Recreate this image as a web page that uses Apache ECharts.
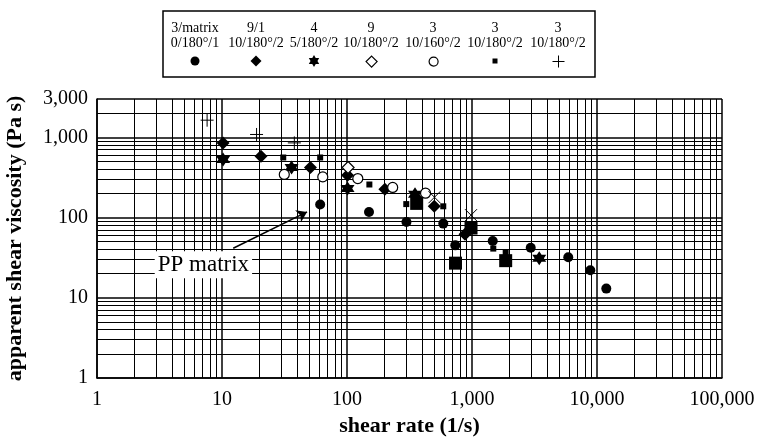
<!DOCTYPE html>
<html>
<head>
<meta charset="utf-8">
<script src="https://cdn.jsdelivr.net/npm/echarts@6/dist/echarts.min.js"></script>
<style>
  html, body { margin: 0; background: #fff; }
  #chart { width: 760px; height: 441px; }
</style>
</head>
<body>
<div id="chart"></div>
<script>
// legend column texts (two lines per column)
const legendTop = ['3/matrix', '9/1', '4', '9', '3', '3', '3']
const legendBottom = ['0/180°/1', '10/180°/2', '5/180°/2', '10/180°/2', '10/160°/2', '10/180°/2', '10/180°/2']
const seriesNames = [
  '3/matrix 0/180°/1',
  '9/1 10/180°/2',
  '4 5/180°/2',
  '9 10/180°/2',
  '3 10/160°/2',
  '3 10/180°/2 (square)',
  '3 10/180°/2 (plus)',
]

// [shear rate (1/s), apparent shear viscosity (Pa s)]
const ppMatrix = [[61, 145], [150, 117], [299, 88], [589, 84], [735, 45], [1465, 51], [2950, 42], [5890, 32], [8840, 22], [11870, 13]]
const diamond91 = [[10.2, 851], [20.5, 581], [51, 420], [101, 337], [201, 225], [499, 138], [879, 62]]
const star4 = [[10.2, 529], [36, 420], [101, 230], [350, 195], [3450, 31]]
const openDiamond9 = [[102, 420]]
const openCircle3 = [[31.5, 344], [64, 321], [122, 306], [232, 237], [425, 201]]
const smallSquare3 = [[30.9, 560], [61, 560], [151, 258], [298, 147], [589, 138], [1480, 41], [1860, 37]]
const plus3 = [[7.6, 1634], [18.9, 1084], [37.9, 851]]
// markers without a legend entry
const bigSquare = [[361, 150], [982, 74], [738, 27], [1860, 29]]
const crossMark = [[501, 179], [982, 107]]

// minor log grid values
const xMinorGrid = []
const yMinorGrid = []
;[1, 10, 100, 1000, 10000].forEach((d) => {
  for (let k = 2; k <= 9; k++) xMinorGrid.push(k * d)
})
;[1, 10, 100].forEach((d) => {
  for (let k = 2; k <= 9; k++) yMinorGrid.push(k * d)
})
yMinorGrid.push(2000)

// annotation
const ppLabelAt = [7.1, 25.8]
const arrowFrom = [12.3, 41.4]
const arrowTo = [47.9, 117.5]

const serif = "'Liberation Serif', 'Times New Roman', serif"
const STAR = 'path://M0,-10L2.887,-5L8.66,-5L5.774,0L8.66,5L2.887,5L0,10L-2.887,5L-8.66,5L-5.774,0L-8.66,-5L-2.887,-5Z'
const PLUS = 'path://M0,-10V10M-10,0H10'
const CROSS = 'path://M-10,-10L10,10M10,-10L-10,10'

const legendX = [195, 256, 314, 371, 433, 495, 558]
const legendIconSize = [9, 11, 12, 11, 9, 5, 12]

const fmt = (v) => Math.round(v).toLocaleString('en-US')

const chart = echarts.init(document.getElementById('chart'))

const filled = { color: '#000', opacity: 1 }
const hollow = { color: '#fff', borderColor: '#000', borderWidth: 1.2, opacity: 1 }
const stroked = { color: 'rgba(0,0,0,0)', borderColor: '#000', borderWidth: 1, opacity: 1 }

chart.setOption({
  animation: false,
  backgroundColor: '#fff',
  grid: { left: 97, right: 38, top: 99, bottom: 63, outerBoundsMode: 'none', containLabel: false },
  xAxis: {
    type: 'log',
    min: 1,
    max: 100000,
    axisLine: { show: true, onZero: false, lineStyle: { color: '#000', width: 1.5 } },
    axisTick: { show: false },
    axisLabel: { color: '#000', fontFamily: serif, fontSize: 20, margin: 12, formatter: fmt },
    splitLine: { show: true, lineStyle: { color: '#000', width: 1.5 } },
    name: 'shear rate (1/s)',
    nameLocation: 'middle',
    nameGap: 35,
    nameTextStyle: { color: '#000', fontFamily: serif, fontSize: 22, fontWeight: 'bold' },
  },
  yAxis: {
    type: 'log',
    min: 1,
    max: 3000,
    axisLine: { show: true, onZero: false, lineStyle: { color: '#000', width: 1.5 } },
    axisTick: { show: false },
    axisLabel: { color: '#000', fontFamily: serif, fontSize: 20, margin: 9, formatter: fmt },
    splitLine: { show: true, lineStyle: { color: '#000', width: 1.5 } },
    name: 'apparent shear viscosity (Pa s)',
    nameLocation: 'middle',
    nameGap: 71,
    nameTextStyle: { color: '#000', fontFamily: serif, fontSize: 22, fontWeight: 'bold' },
  },
  // legend icons: one component per column, text drawn by graphic below
  legend: seriesNames.map((name, i) => ({
    data: [name],
    left: legendX[i] - legendIconSize[i] / 2,
    top: 61 - legendIconSize[i] / 2,
    padding: 0,
    itemWidth: legendIconSize[i],
    itemHeight: legendIconSize[i],
    selectedMode: false,
    formatter: () => '',
    itemStyle: { borderWidth: i === 3 || i === 4 ? 1.2 : i === 6 ? 1 : 0 },
  })),
  graphic: [
    {
      type: 'rect',
      shape: { x: 163, y: 11, width: 432, height: 66 },
      style: { fill: 'none', stroke: '#000', lineWidth: 1.5 },
    },
    ...legendTop.map((t, i) => ({
      type: 'text',
      x: legendX[i],
      y: 28,
      style: { text: t, fill: '#000', font: `14px ${serif}`, align: 'center', verticalAlign: 'middle' },
    })),
    ...legendBottom.map((t, i) => ({
      type: 'text',
      x: legendX[i],
      y: 43,
      style: { text: t, fill: '#000', font: `14px ${serif}`, align: 'center', verticalAlign: 'middle' },
    })),
  ],
  series: [
    {
      // minor log grid lines
      name: 'grid',
      type: 'scatter',
      data: [],
      z: 1,
      silent: true,
      markLine: {
        z: 1,
        silent: true,
        symbol: 'none',
        label: { show: false },
        lineStyle: { color: '#000', width: 1, type: 'solid' },
        data: [...xMinorGrid.map((v) => ({ xAxis: v })), ...yMinorGrid.map((v) => ({ yAxis: v }))],
      },
    },
    {
      name: seriesNames[0],
      type: 'scatter',
      symbol: 'circle',
      symbolSize: 10,
      itemStyle: filled,
      data: ppMatrix,
      z: 3,
      markLine: {
        silent: true,
        symbol: ['none', 'arrow'],
        symbolSize: 10,
        label: { show: false },
        lineStyle: { color: '#000', width: 1.5, type: 'solid' },
        data: [[{ coord: arrowFrom }, { coord: arrowTo }]],
      },
      markPoint: {
        silent: true,
        symbol: 'rect',
        symbolSize: 0,
        label: {
          show: true,
          position: 'inside',
          formatter: 'PP matrix',
          color: '#000',
          backgroundColor: '#fff',
          padding: [2, 3],
          fontFamily: serif,
          fontSize: 23,
        },
        data: [{ coord: ppLabelAt }],
      },
    },
    { name: seriesNames[1], type: 'scatter', symbol: 'diamond', symbolSize: 13, itemStyle: filled, data: diamond91, z: 3 },
    { name: seriesNames[2], type: 'scatter', symbol: STAR, symbolSize: 14, itemStyle: filled, data: star4, z: 3 },
    { name: seriesNames[3], type: 'scatter', symbol: 'diamond', symbolSize: 12, itemStyle: hollow, data: openDiamond9, z: 3 },
    { name: seriesNames[4], type: 'scatter', symbol: 'circle', symbolSize: 10, itemStyle: hollow, data: openCircle3, z: 3 },
    { name: seriesNames[5], type: 'scatter', symbol: 'rect', symbolSize: 6, itemStyle: filled, data: smallSquare3, z: 4 },
    { name: seriesNames[6], type: 'scatter', symbol: PLUS, symbolSize: 13, itemStyle: stroked, data: plus3, z: 3 },
    { name: 'big square', type: 'scatter', symbol: 'rect', symbolSize: 13, itemStyle: filled, data: bigSquare, z: 3 },
    { name: 'cross', type: 'scatter', symbol: CROSS, symbolSize: 12, itemStyle: stroked, data: crossMark, z: 3 },
  ],
})
</script>
</body>
</html>
